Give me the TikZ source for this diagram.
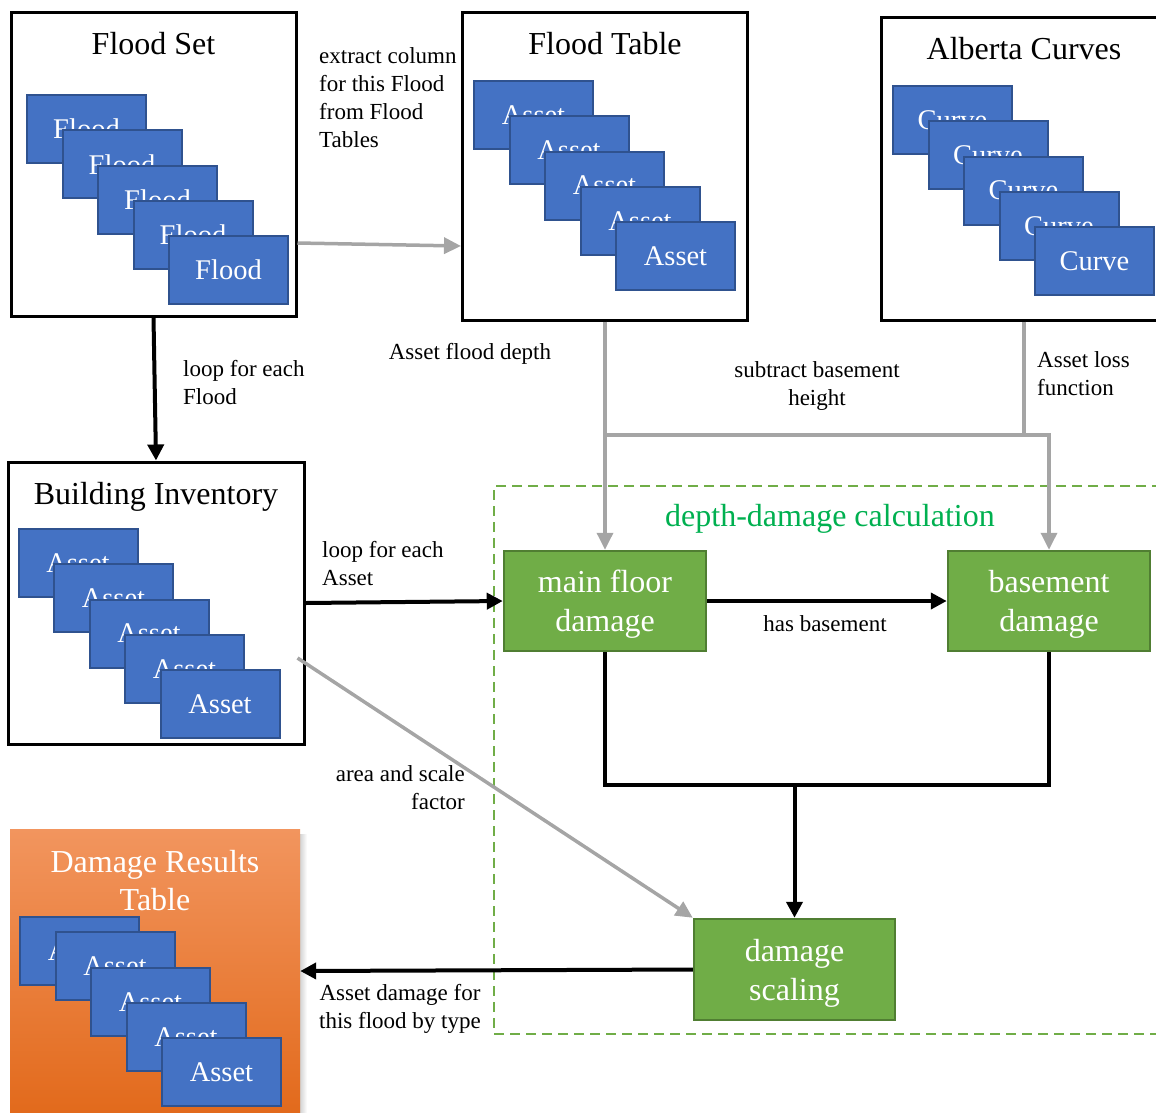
\documentclass[tikz,border=0pt]{standalone}
\usepackage{fontspec}
\setmainfont{Liberation Serif}
\usetikzlibrary{arrows.meta,calc}
\definecolor{cardblue}{HTML}{4472C4}
\definecolor{cardedge}{HTML}{2F528F}
\definecolor{stepgreen}{HTML}{70AD47}
\definecolor{stepedge}{HTML}{507E32}
\definecolor{flowgray}{HTML}{A5A5A5}
\definecolor{calcgreen}{HTML}{00B050}
\definecolor{resulttop}{HTML}{F2955E}
\definecolor{resultmid}{HTML}{EF7E30}
\definecolor{resultbot}{HTML}{E26A1C}

\begin{document}
\begin{tikzpicture}[x=1pt,y=-1pt,
  panel/.style={draw=black,line width=3pt,fill=white,inner sep=0pt},
  card/.style={draw=cardedge,fill=cardblue,line width=2pt,minimum width=119pt,
    minimum height=68pt,inner sep=0pt,text=white,font=\fontsize{28.5}{34}\selectfont},
  stepbox/.style={draw=stepedge,fill=stepgreen,line width=2.5pt,minimum width=202pt,
    minimum height=100pt,inner sep=0pt,text=white,align=center,text depth=0pt,
    font=\fontsize{32}{39}\selectfont},
  title/.style={font=\fontsize{32}{38}\selectfont,anchor=base,inner sep=0pt},
  lbl/.style={font=\fontsize{23}{28}\selectfont,inner sep=0pt},
  flow/.style={line width=4pt,-{Triangle[length=16pt,width=16pt]}},
  grayflow/.style={draw=flowgray,line width=3.5pt,-{Triangle[length=17pt,width=16pt]}},
  grayline/.style={draw=flowgray,line width=3.5pt},
]
\path[use as bounding box] (0,0) rectangle (1156,1112);
\clip (0,0) rectangle (1156,1112);

% dashed frame of the depth-damage calculation
\node[draw=stepgreen,line width=2pt,dash pattern=on 10pt off 6pt,
  minimum width=676pt,minimum height=548pt,inner sep=0pt] (calcbox) at (832,760) {};
\node[title,text=calcgreen] (calctitle) at (830,526) {depth-damage calculation};

% Flood Set
\node[panel,minimum width=285pt,minimum height=304pt] (fsbox) at (153.5,164) {};
\node[title] (fstitle) at (153.5,54) {Flood Set};
\foreach \i in {0,...,4}
  \node[card] (fs\i) at ({86.5+35.5*\i},{129+35.25*\i}) {Flood};

% Flood Table
\node[panel,minimum width=285pt,minimum height=308pt] (ftbox) at (605,166) {};
\node[title] (fttitle) at (605,54) {Flood Table};
\foreach \i in {0,...,4}
  \node[card] (ft\i) at ({533.5+35.5*\i},{115+35.25*\i}) {Asset};

% Alberta Curves
\node[panel,minimum width=286pt,minimum height=303pt] (acbox) at (1024,168.5) {};
\node[title] (actitle) at (1024,59) {Alberta Curves};
\foreach \i in {0,...,4}
  \node[card] (ac\i) at ({952.5+35.5*\i},{120+35.25*\i}) {Curve};

% Building Inventory
\node[panel,minimum width=296pt,minimum height=282pt] (bibox) at (156,603) {};
\node[title] (bititle) at (156,504) {Building Inventory};
\foreach \i in {0,...,4}
  \node[card] (bi\i) at ({78+35.5*\i},{563+35.25*\i}) {Asset};

% Damage Results Table
\shade[left color=black!22,right color=white] (298,834) rectangle (307,1112);
\node[inner sep=0pt,minimum width=290pt,minimum height=284pt,
  top color=resulttop,middle color=resultmid,bottom color=resultbot] (drt) at (155,971) {};
\node[font=\fontsize{32}{38}\selectfont,text=white,align=center,anchor=north,
  inner sep=0pt] (drtitle) at (155,850) {Damage Results\\Table};
\foreach \i/\t in {0/917,1/932,2/968,3/1003,4/1038}
  \node[card] (dr\i) at ({79.5+35.5*\i},{\t+34}) {Asset};

% calculation steps
\node[stepbox] (mfd) at (605,601) {main floor\\damage};
\node[stepbox] (bsd) at (1049,601) {basement\\damage};
\node[stepbox,minimum width=201pt,minimum height=101pt] (dsc) at (794.5,969.5) {damage\\scaling};

% connector labels
\node[lbl,align=left,anchor=north west] (lbextract) at (319,47)
  {extract column\\for this Flood\\from Flood\\Tables};
\node[lbl,align=left,anchor=north west] (lbloopflood) at (183,360) {loop for each\\Flood};
\node[lbl,anchor=base] (lbdepth) at (470,359) {Asset flood depth};
\node[lbl,align=center,anchor=north] (lbsubtract) at (817,361) {subtract basement\\height};
\node[lbl,align=left,anchor=north west] (lbloss) at (1037,351) {Asset loss\\function};
\node[lbl,align=left,anchor=north west] (lbloopasset) at (322,541) {loop for each\\Asset};
\node[lbl,anchor=base] (lbbasement) at (825,631) {has basement};
\node[lbl,align=right,anchor=north east] (lbarea) at (465,765) {area and scale\\factor};
\node[lbl,align=center,anchor=north] (lbresult) at (400,984) {Asset damage for\\this flood by type};

% connectors
\coordinate (split) at (605,435);
\coordinate (merge) at (794.5,785);
\draw[grayflow] ([yshift=-79pt]fsbox.east) -- ([yshift=-80pt]ftbox.west);
\draw[flow] (fsbox.south) -- (bibox.north);
\draw[grayflow] (ftbox.south) -- (mfd.north);
\draw[grayline] (acbox.south) -- (acbox.south |- split);
\draw[grayflow] (split) -| (bsd.north);
\draw[flow] (bibox.east) -- (mfd.west);
\draw[flow] (mfd.east) -- (bsd.west);
\draw[line width=4pt] (mfd.south) |- (merge) -| (bsd.south);
\draw[flow] (merge) -- (dsc.north);
\draw[grayflow] ([xshift=-8pt,yshift=-55pt]bibox.east) -- (dsc.north west);
\draw[flow] (dsc.west) -- (drt.east);
\end{tikzpicture}
\end{document}
